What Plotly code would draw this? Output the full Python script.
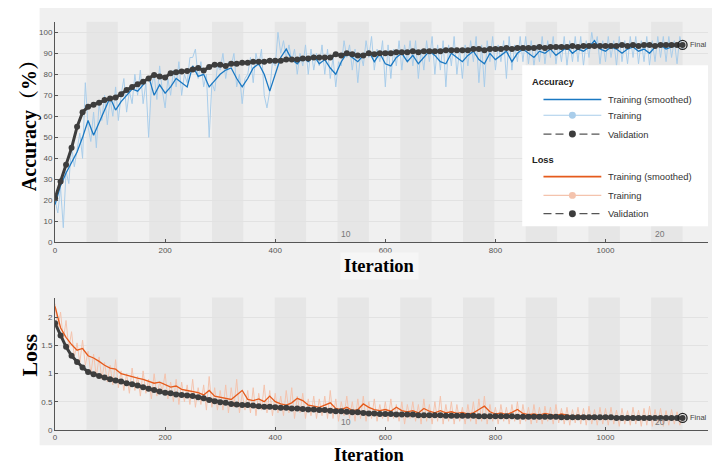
import plotly.graph_objects as go

# ---------------- data ----------------
ITERS_PER_EPOCH = 57
N_EPOCHS = 20
epoch_marks = [10, 20]
RAW_STEP = 5      # raw training values every 5 iterations
SMOOTH_STEP = 10  # smoothed / validation values every 10 iterations

acc_train_raw = [
    20, 14, 26, 7, 34, 28, 46, 36, 44, 52,
    40, 76, 55, 48, 62, 45, 66, 58, 70, 56,
    68, 60, 74, 58, 70, 78, 62, 72, 66, 80,
    70, 82, 66, 76, 50, 74, 80, 68, 84, 72,
    64, 78, 70, 82, 74, 86, 70, 80, 76, 88,
    88, 92, 78, 86, 74, 80, 50, 76, 72, 84,
    82, 90, 78, 86, 84, 90, 74, 80, 66, 78,
    80, 88, 76, 90, 84, 92, 70, 64, 72, 86,
    84, 100, 90, 96, 88, 94, 86, 92, 80, 90,
    84, 94, 80, 92, 82, 90, 84, 94, 80, 92,
    78, 88, 74, 86, 84, 96, 88, 94, 82, 92,
    76, 90, 84, 96, 88, 98, 82, 92, 86, 96,
    74, 94, 78, 92, 84, 96, 82, 94, 86, 96,
    84, 96, 78, 92, 82, 96, 86, 98, 80, 94,
    82, 96, 74, 94, 84, 98, 80, 92, 78, 94,
    84, 96, 86, 98, 76, 94, 74, 96, 86, 98,
    82, 94, 86, 96, 78, 98, 82, 94, 86, 98,
    86, 98, 85, 96, 84, 94, 86, 98, 85, 96,
    88, 98, 85, 94, 86, 98, 84, 96, 86, 98,
    86, 98, 84, 96, 88, 100, 92, 98, 85, 96,
    86, 98, 88, 96, 84, 98, 86, 96, 85, 98,
    88, 98, 85, 96, 86, 98, 84, 96, 86, 98,
    88, 98, 86, 98, 88, 96, 85, 98, 92,
]

acc_train_smooth = [
    18, 27, 33, 38, 43, 50, 58, 51, 57, 63,
    69, 63, 67, 70, 73, 72, 75, 79, 70, 75,
    71, 74, 78, 76, 74, 84, 79, 80, 74, 77,
    80, 82, 83, 78, 74, 78, 83, 85, 80, 72,
    80, 88, 92, 87, 85, 88, 86, 89, 85, 87,
    83, 80, 86, 90, 88, 86, 89, 91, 86, 90,
    85, 84, 88, 90, 86, 89, 85, 88, 91, 89,
    86, 85, 90, 88, 86, 89, 91, 87, 85, 90,
    87, 89, 91, 86, 90, 92, 90, 88, 91, 90,
    92, 89, 91, 93, 90, 92, 91, 93, 96, 92,
    91, 93, 92, 90, 92, 93, 91, 92, 90, 93,
    94, 92, 93, 94, 93,
]

acc_val = [
    21, 29, 37, 45, 55, 62, 64.5, 65.5, 66.5, 67.8,
    68.5, 69, 70.5, 72.5, 74, 75.3, 76.5, 78, 79.7, 79,
    78.5, 80.5, 81, 81.3, 81.6, 82.3, 83, 81.8, 83.5, 84.5,
    84.5, 84, 85, 85, 85.5, 85.5, 86, 86, 86, 86.5,
    86.5, 86.5, 87, 87, 87, 87.5, 87.5, 88, 88, 88,
    88, 89.5, 89, 90, 89.5, 89, 89, 90, 89.5, 90,
    90, 90, 90.5, 90.5, 90.5, 91, 90.5, 91, 91, 91,
    91, 91.5, 91.5, 91.5, 91.5, 91.5, 92, 92, 91.5, 92,
    92, 92, 92.5, 92, 92.5, 92.5, 92.5, 92.5, 93, 92.5,
    93, 93, 93, 93, 93.5, 93, 93.5, 93.5, 93.5, 93.5,
    93.5, 93.5, 93.5, 94, 93.5, 94, 93.5, 94, 94, 93.5,
    94, 94, 94, 94, 94,
]

loss_train_raw = [
    2.25, 1.8, 2.1, 1.6, 1.95, 1.45, 1.75, 1.3, 1.55, 1.2,
    1.6, 1.15, 1.4, 1.0, 1.35, 0.95, 1.3, 0.9, 1.2, 0.85,
    1.15, 0.8, 1.25, 0.75, 1.05, 0.7, 1.0, 0.65, 1.1, 0.7,
    0.95, 0.6, 1.05, 0.65, 0.9, 0.55, 1.0, 0.6, 0.85, 0.7,
    1.0, 0.55, 0.85, 0.5, 0.9, 0.45, 0.85, 0.5, 0.8, 0.45,
    0.9, 0.4, 0.75, 0.45, 0.8, 0.35, 0.95, 0.4, 0.75, 0.35,
    0.7, 0.35, 0.8, 0.3, 0.75, 0.4, 0.9, 0.3, 0.65, 0.35,
    0.7, 0.3, 0.75, 0.25, 0.65, 0.35, 0.8, 0.3, 0.7, 0.25,
    0.65, 0.3, 0.6, 0.25, 0.7, 0.3, 0.75, 0.2, 0.6, 0.3,
    0.65, 0.2, 0.55, 0.25, 0.6, 0.2, 0.55, 0.25, 0.6, 0.2,
    0.7, 0.2, 0.55, 0.15, 0.5, 0.25, 0.6, 0.2, 0.5, 0.15,
    0.55, 0.2, 0.6, 0.15, 0.5, 0.2, 0.55, 0.15, 0.45, 0.2,
    0.5, 0.15, 0.55, 0.2, 0.45, 0.15, 0.5, 0.1, 0.45, 0.2,
    0.5, 0.15, 0.45, 0.1, 0.55, 0.15, 0.45, 0.1, 0.5, 0.15,
    0.6, 0.1, 0.45, 0.15, 0.5, 0.1, 0.45, 0.15, 0.4, 0.1,
    0.45, 0.15, 0.5, 0.1, 0.55, 0.15, 0.6, 0.1, 0.45, 0.15,
    0.4, 0.1, 0.45, 0.15, 0.4, 0.1, 0.45, 0.15, 0.5, 0.1,
    0.45, 0.15, 0.4, 0.1, 0.45, 0.12, 0.4, 0.1, 0.42, 0.15,
    0.4, 0.1, 0.45, 0.12, 0.38, 0.1, 0.4, 0.08, 0.36, 0.12,
    0.4, 0.1, 0.38, 0.08, 0.42, 0.1, 0.36, 0.08, 0.4, 0.1,
    0.38, 0.08, 0.4, 0.1, 0.35, 0.06, 0.38, 0.1, 0.34, 0.08,
    0.4, 0.1, 0.35, 0.06, 0.38, 0.08, 0.42, 0.06, 0.36, 0.1,
    0.38, 0.06, 0.34, 0.08, 0.36, 0.1, 0.32, 0.08, 0.24,
]

loss_train_smooth = [
    2.2, 1.82, 1.65, 1.52, 1.42, 1.45, 1.32, 1.28, 1.22, 1.15,
    1.10, 1.08, 1.00, 0.97, 0.95, 0.92, 0.90, 0.86, 0.83, 0.85,
    0.80, 0.76, 0.78, 0.72, 0.70, 0.68, 0.66, 0.62, 0.70, 0.60,
    0.58, 0.57, 0.54, 0.62, 0.70, 0.54, 0.52, 0.55, 0.50, 0.60,
    0.50, 0.46, 0.44, 0.48, 0.56, 0.52, 0.44, 0.42, 0.40, 0.44,
    0.48, 0.38, 0.36, 0.40, 0.34, 0.36, 0.46, 0.40, 0.36, 0.34,
    0.36, 0.33, 0.40, 0.34, 0.32, 0.34, 0.30, 0.38, 0.33, 0.30,
    0.34, 0.30, 0.32, 0.29, 0.31, 0.28, 0.30, 0.36, 0.42, 0.32,
    0.28, 0.30, 0.27, 0.31, 0.36, 0.29, 0.27, 0.28, 0.26, 0.29,
    0.27, 0.25, 0.28, 0.26, 0.24, 0.26, 0.23, 0.25, 0.24, 0.22,
    0.25, 0.22, 0.20, 0.23, 0.21, 0.24, 0.20, 0.22, 0.19, 0.23,
    0.21, 0.19, 0.22, 0.20, 0.22,
]

loss_val = [
    1.90, 1.68, 1.48, 1.32, 1.21, 1.11, 1.03, 0.99, 0.96, 0.93,
    0.90, 0.88, 0.86, 0.83, 0.81, 0.79, 0.76, 0.73, 0.71, 0.68,
    0.66, 0.65, 0.63, 0.62, 0.61, 0.60, 0.58, 0.56, 0.53, 0.51,
    0.49, 0.48, 0.46, 0.45, 0.44, 0.44, 0.43, 0.42, 0.41, 0.41,
    0.40, 0.39, 0.39, 0.38, 0.38, 0.37, 0.36, 0.36, 0.35, 0.35,
    0.34, 0.33, 0.33, 0.32, 0.31, 0.31, 0.30, 0.29, 0.29, 0.28,
    0.28, 0.28, 0.27, 0.27, 0.27, 0.27, 0.26, 0.26, 0.26, 0.26,
    0.26, 0.25, 0.25, 0.25, 0.25, 0.25, 0.25, 0.24, 0.24, 0.24,
    0.24, 0.24, 0.24, 0.24, 0.23, 0.23, 0.23, 0.23, 0.23, 0.23,
    0.23, 0.23, 0.22, 0.22, 0.22, 0.22, 0.22, 0.22, 0.22, 0.22,
    0.22, 0.22, 0.21, 0.21, 0.21, 0.21, 0.21, 0.21, 0.21, 0.21,
    0.21, 0.21, 0.21, 0.21, 0.21,
]

acc_ticks = [0, 10, 20, 30, 40, 50, 60, 70, 80, 90, 100]
loss_ticks = [0, 0.5, 1, 1.5, 2]
loss_ticktext = ["0", "0.5", "1", "1.5", "2"]
iter_ticks = [0, 200, 400, 600, 800, 1000]

# ---------------- layout helpers ----------------
W, H = 712, 472
def px(x):
    return x / W
def py(y):
    return 1 - y / H

raw_iter = [i * RAW_STEP for i in range(len(acc_train_raw))]
raw_iter_l = [i * RAW_STEP for i in range(len(loss_train_raw))]
sm_iter = [i * SMOOTH_STEP for i in range(len(acc_train_smooth))]
sm_iter_l = [i * SMOOTH_STEP for i in range(len(loss_train_smooth))]
val_iter = [i * SMOOTH_STEP for i in range(len(acc_val))]
val_iter_l = [i * SMOOTH_STEP for i in range(len(loss_val))]

C_BLUE = "#1a78c2"
C_LBLUE = "#a9cdea"
C_ORANGE = "#e55b1c"
C_LORANGE = "#f4c3ad"
C_VAL = "#3d3d3d"
BAND = "#e6e6e6"
AXC = "#555555"
SANS = "Arial, Liberation Sans, sans-serif"
SERIF = "Times New Roman, Liberation Serif, Noto Serif CJK SC, serif"

fig = go.Figure()

def add_panel(xa, ya, r_it, raw, s_it, smooth, v_it, val, c_raw, c_sm):
    fig.add_trace(go.Scatter(x=r_it, y=raw, mode="lines",
                             line=dict(color=c_raw, width=1), xaxis=xa, yaxis=ya,
                             name="Training", hoverinfo="skip"))
    fig.add_trace(go.Scatter(x=s_it, y=smooth, mode="lines",
                             line=dict(color=c_sm, width=1.3), xaxis=xa, yaxis=ya,
                             name="Training (smoothed)"))
    fig.add_trace(go.Scatter(x=v_it, y=val, mode="lines+markers",
                             line=dict(color=C_VAL, width=3),
                             marker=dict(color=C_VAL, size=6), xaxis=xa, yaxis=ya,
                             name="Validation"))
    fig.add_trace(go.Scatter(x=[v_it[-1]], y=[val[-1]], mode="markers",
                             marker=dict(symbol="circle-open", size=9, color="#222",
                                         line=dict(width=1.3)),
                             xaxis=xa, yaxis=ya, name="Final"))

add_panel("x", "y", raw_iter, acc_train_raw, sm_iter, acc_train_smooth,
          val_iter, acc_val, C_LBLUE, C_BLUE)
add_panel("x2", "y2", raw_iter_l, loss_train_raw, sm_iter_l, loss_train_smooth,
          val_iter_l, loss_val, C_LORANGE, C_ORANGE)

shapes = []
# figure gray background
shapes.append(dict(type="rect", xref="paper", yref="paper",
                   x0=px(37.7), x1=1, y0=py(450), y1=py(8),
                   fillcolor="#f0f0f0", line=dict(width=0), layer="below"))
# epoch bands
for ep in range(2, N_EPOCHS + 1, 2):
    a = (ep - 1) * ITERS_PER_EPOCH
    b = ep * ITERS_PER_EPOCH
    for xr, yr in (("x", "y domain"), ("x2", "y2 domain")):
        shapes.append(dict(type="rect", xref=xr, yref=yr, x0=a, x1=b, y0=0, y1=1,
                           fillcolor=BAND, line=dict(width=0), layer="below"))

# legend box (drawn)
shapes.append(dict(type="rect", xref="paper", yref="paper",
                   x0=px(521.7), x1=px(708), y0=py(228.7), y1=py(66),
                   fillcolor="white", line=dict(width=0), layer="above"))

annotations = []
def leg_entry(yc, color, text, kind):
    x0, x1, xm = 543, 601, 572
    r = 3.5
    if kind == "solid":
        shapes.append(dict(type="line", xref="paper", yref="paper",
                           x0=px(x0), x1=px(x1), y0=py(yc), y1=py(yc),
                           line=dict(color=color, width=1.6), layer="above"))
    elif kind == "marker":
        shapes.append(dict(type="line", xref="paper", yref="paper",
                           x0=px(x0), x1=px(x1), y0=py(yc), y1=py(yc),
                           line=dict(color=color, width=1.2), layer="above"))
        shapes.append(dict(type="circle", xref="paper", yref="paper",
                           x0=px(xm - r), x1=px(xm + r), y0=py(yc + r), y1=py(yc - r),
                           fillcolor=color, line=dict(width=0), layer="above"))
    else:
        shapes.append(dict(type="line", xref="paper", yref="paper",
                           x0=px(x0), x1=px(x1), y0=py(yc), y1=py(yc),
                           line=dict(color="#555", width=1.2, dash="8px,4px"),
                           layer="above"))
        shapes.append(dict(type="circle", xref="paper", yref="paper",
                           x0=px(xm - r - 2), x1=px(xm + r + 2), y0=py(yc + r + 2), y1=py(yc - r - 2),
                           fillcolor="white", line=dict(width=0), layer="above"))
        shapes.append(dict(type="circle", xref="paper", yref="paper",
                           x0=px(xm - r), x1=px(xm + r), y0=py(yc + r), y1=py(yc - r),
                           fillcolor=C_VAL, line=dict(width=0), layer="above"))
    annotations.append(dict(xref="paper", yref="paper", x=px(606), y=py(yc),
                            xanchor="left", yanchor="middle", showarrow=False,
                            text=text, font=dict(family=SANS, size=9.4, color="#333")))

annotations.append(dict(xref="paper", yref="paper", x=px(529), y=py(82.7),
                        xanchor="left", yanchor="middle", showarrow=False,
                        text="<b>Accuracy</b>",
                        font=dict(family=SANS, size=9.3, color="#222")))
leg_entry(100.5, C_BLUE, "Training (smoothed)", "solid")
leg_entry(116.5, C_LBLUE, "Training", "marker")
leg_entry(135.5, None, "Validation", "dash")
annotations.append(dict(xref="paper", yref="paper", x=px(529), y=py(161.7),
                        xanchor="left", yanchor="middle", showarrow=False,
                        text="<b>Loss</b>",
                        font=dict(family=SANS, size=9.3, color="#222")))
leg_entry(178.5, C_ORANGE, "Training (smoothed)", "solid")
leg_entry(197.5, C_LORANGE, "Training", "marker")
leg_entry(216, None, "Validation", "dash")

# epoch labels
for ep in epoch_marks:
    a = (ep - 1) * ITERS_PER_EPOCH
    for xr, yr in (("x", "y domain"), ("x2", "y2 domain")):
        annotations.append(dict(xref=xr, yref=yr, x=a, y=0, xanchor="left",
                                yanchor="middle", xshift=2, yshift=8, showarrow=False,
                                text=str(ep),
                                font=dict(family=SANS, size=8.5, color="#777")))

# "Final" labels
for xr, yr, xv, yv in (("x", "y", val_iter[-1], acc_val[-1]),
                       ("x2", "y2", val_iter_l[-1], loss_val[-1])):
    annotations.append(dict(xref=xr, yref=yr, x=xv, y=yv,
                            xanchor="left", yanchor="middle", xshift=5, showarrow=False,
                            text="Final", font=dict(family=SANS, size=7.5, color="#444")))

# axis titles
annotations.append(dict(xref="paper", yref="paper", x=px(27.5), y=py(122),
                        xanchor="center", yanchor="middle", showarrow=False, textangle=-90,
                        text="<b>Accuracy（%）</b>",
                        font=dict(family=SERIF, size=20, color="black")))
annotations.append(dict(xref="paper", yref="paper", x=px(27.5), y=py(359),
                        xanchor="center", yanchor="middle", showarrow=False, textangle=-90,
                        text="<b>Loss</b>",
                        font=dict(family=SERIF, size=22, color="black")))
annotations.append(dict(xref="paper", yref="paper", x=px(379), y=py(269),
                        xanchor="center", yanchor="middle", showarrow=False,
                        text="<b>Iteration</b>", bgcolor="#f6f6f6", borderpad=3,
                        font=dict(family=SERIF, size=18.5, color="black")))
annotations.append(dict(xref="paper", yref="paper", x=px(369), y=py(460),
                        xanchor="center", yanchor="middle", showarrow=False,
                        text="<b>Iteration</b>",
                        font=dict(family=SERIF, size=18.5, color="black")))

XR = [0, (708 - 53.2) / (110.4 / 200)]
xdom = [px(53.2), px(708)]
tickfont = dict(family=SANS, size=8, color="#555")

common_x = dict(range=XR, tickvals=iter_ticks, ticks="inside", ticklen=3,
                tickcolor=AXC, showline=True, linecolor=AXC, linewidth=1,
                showgrid=False, zeroline=False, tickfont=tickfont, fixedrange=True)
common_y = dict(ticks="inside", ticklen=3, tickcolor=AXC, showline=True,
                linecolor=AXC, linewidth=1, showgrid=True, gridcolor="#e2e2e2",
                gridwidth=1, zeroline=False, tickfont=tickfont, fixedrange=True)

fig.update_layout(
    width=W, height=H,
    margin=dict(l=0, r=0, t=0, b=0),
    paper_bgcolor="white", plot_bgcolor="white",
    showlegend=False,
    xaxis=dict(domain=xdom, anchor="y", **common_x),
    yaxis=dict(domain=[py(245), py(22)], anchor="x", range=[0, 105],
               tickvals=acc_ticks, **common_y),
    xaxis2=dict(domain=xdom, anchor="y2", **common_x),
    yaxis2=dict(domain=[py(434.3), py(300.7)], anchor="x2", range=[0, 2.36],
                tickvals=loss_ticks, ticktext=loss_ticktext, **common_y),
    shapes=shapes,
    annotations=annotations,
)

fig.write_html("out.html", config={"displayModeBar": False},
               post_script="document.body.style.margin='0';document.body.style.overflow='hidden';")
